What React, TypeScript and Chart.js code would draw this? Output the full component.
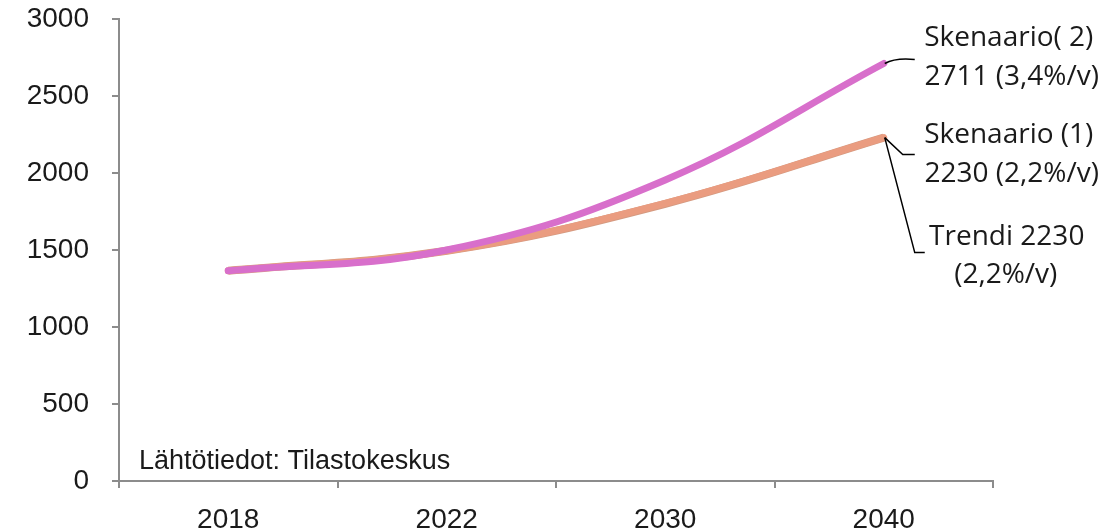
import React, { useEffect, useRef } from "react";
import { Chart, registerables } from "chart.js";

Chart.register(...registerables);

const years = ["2018", "2022", "2030", "2040"];
const skenaario2 = [1365, 1500, 1955, 2711];
const skenaario1 = [1365, 1495, 1803, 2230];
const trendi = [1365, 1495, 1800, 2230];
const yTicks = [0, 500, 1000, 1500, 2000, 2500, 3000];
const sourceText = "Lähtötiedot: Tilastokeskus";
const label2 = ["Skenaario( 2)", "2711 (3,4%/v)"];
const label1 = ["Skenaario (1)", "2230 (2,2%/v)"];
const labelT = ["Trendi 2230", "(2,2%/v)"];

const PINK = "#D86FCB";
const SALMON = "#EA9C80";
const AXIS = "#8c8c8c";

const annotations = {
  id: "annotations",
  afterDraw(chart: any) {
    const { ctx, chartArea } = chart;
    const x = chart.scales.x;
    const y = chart.scales.y;
    const last = years.length - 1;
    const px = x.getPixelForValue(last);
    const p2 = y.getPixelForValue(skenaario2[last]);
    const p1 = y.getPixelForValue(skenaario1[last]);
    ctx.save();
    ctx.strokeStyle = "#000";
    ctx.lineWidth = 1.5;
    ctx.beginPath();
    ctx.moveTo(px + 1, p2);
    ctx.quadraticCurveTo(px + 12, p2 - 6, px + 31, p2 - 4);
    ctx.stroke();
    ctx.beginPath();
    ctx.moveTo(px + 1, p1);
    ctx.lineTo(px + 19, p1 + 17);
    ctx.lineTo(px + 31, p1 + 17);
    ctx.stroke();
    ctx.beginPath();
    ctx.moveTo(px + 1, p1);
    ctx.lineTo(px + 31, p1 + 115);
    ctx.lineTo(px + 41, p1 + 115);
    ctx.stroke();

    ctx.fillStyle = "#1a1a1a";
    ctx.font = "28px 'Open Sans', sans-serif";
    ctx.textAlign = "center";
    ctx.textBaseline = "middle";
    const cx = px + 125;
    ctx.fillText(label2[0], cx, p2 - 25);
    ctx.fillText(label2[1], cx + 3, p2 + 14);
    ctx.fillText(label1[0], cx, p1 - 3);
    ctx.fillText(label1[1], cx + 3, p1 + 36);
    ctx.fillText(labelT[0], cx - 2, p1 + 99);
    ctx.fillText(labelT[1], cx - 3, p1 + 137);

    ctx.textAlign = "left";
    ctx.font = "27px 'Liberation Sans Narrow', 'Liberation Sans', sans-serif";
    ctx.fillText(sourceText, chartArea.left + 20, chartArea.bottom - 19);
    ctx.restore();
  },
};

export default function App() {
  const ref = useRef<HTMLCanvasElement | null>(null);
  useEffect(() => {
    if (!ref.current) return;
    const chart = new Chart(ref.current, {
      type: "line",
      data: {
        labels: years,
        datasets: [
          {
            label: "Trendi",
            data: trendi,
            borderColor: "#d49a80",
            borderWidth: 8,
            pointRadius: 0,
            tension: 0.4,
            order: 3,
          },
          {
            label: "Skenaario 1",
            data: skenaario1,
            borderColor: SALMON,
            borderWidth: 7,
            pointRadius: 0,
            tension: 0.4,
            borderCapStyle: "round",
            order: 2,
          },
          {
            label: "Skenaario 2",
            data: skenaario2,
            borderColor: PINK,
            borderWidth: 7,
            pointRadius: 0,
            tension: 0.4,
            borderCapStyle: "round",
            order: 1,
          },
        ],
      },
      options: {
        animation: false,
        responsive: false,
        maintainAspectRatio: false,
        layout: { padding: { top: 19, right: 122, left: 0, bottom: 0 } },
        plugins: { legend: { display: false }, tooltip: { enabled: false } },
        scales: {
          x: {
            type: "category",
            offset: true,
            grid: {
              offset: true,
              drawOnChartArea: false,
              drawTicks: true,
              tickLength: 7,
              color: AXIS,
              lineWidth: 2,
            },
            border: { color: AXIS, width: 2 },
            ticks: {
              color: "#1a1a1a",
              font: { family: "'Liberation Sans Narrow', 'Liberation Sans', sans-serif", size: 28 },
              padding: 15,
              maxRotation: 0,
            },
            afterFit: (s: any) => {
              s.height = 50;
              s.paddingLeft = 0;
              s.paddingRight = 0;
            },
          },
          y: {
            min: 0,
            max: 3000,
            afterBuildTicks: (s: any) => {
              s.ticks = yTicks.map((v) => ({ value: v }));
            },
            grid: {
              drawOnChartArea: false,
              drawTicks: true,
              tickLength: 7,
              color: AXIS,
              lineWidth: 2,
            },
            border: { color: AXIS, width: 2 },
            ticks: {
              color: "#1a1a1a",
              font: { family: "'Liberation Sans', Arial, sans-serif", size: 28 },
              padding: 23,
              callback: (v: any) => String(v),
            },
            afterFit: (s: any) => {
              s.width = 119;
              s.paddingTop = 0;
              s.paddingBottom = 0;
            },
          },
        },
      },
      plugins: [annotations],
    });
    return () => chart.destroy();
  }, []);
  return (
    <div style={{ position: "fixed", left: 0, top: 0, width: 1115, height: 531, background: "#fff" }}>
      <canvas ref={ref} width={1115} height={531} style={{ width: 1115, height: 531, display: "block" }} />
    </div>
  );
}
